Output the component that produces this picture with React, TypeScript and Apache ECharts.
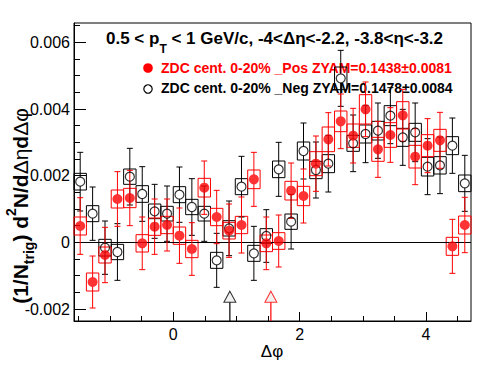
import React, { useEffect, useRef } from 'react';
import * as echarts from 'echarts';

const PI = Math.PI;
const NBINS = 32;
const BIN_W = PI / 16;
const X_MIN = -PI / 2;
const X_MAX = (3 * PI) / 2;
const Y_MIN = -0.00236;
const Y_MAX = 0.00658;

// _Neg (black open circles)
const NEG_Y = [0.00182, 0.00086, -0.00016, -0.00029, 0.00197, 0.00145, 0.00093, 0.00086, 0.00143, 0.00106, 0.00086, -0.00054, 0.00042, 0.00167, -0.00033, 0.00019, 0.00219, 0.00062, 0.00274, 0.00217, 0.00236, 0.00492, 0.00297, 0.00325, 0.00335, 0.0038, 0.00315, 0.0033, 0.00227, 0.00231, 0.0029, 0.00177];
const NEG_STAT = [0.00088, 0.0008, 0.0008, 0.00085, 0.00085, 0.00082, 0.00081, 0.00083, 0.00083, 0.00085, 0.00083, 0.00081, 0.00082, 0.00091, 0.00081, 0.00079, 0.00081, 0.00082, 0.00084, 0.00084, 0.00085, 0.00084, 0.00085, 0.00086, 0.00083, 0.00084, 0.00084, 0.00088, 0.00084, 0.00085, 0.00083, 0.00084];
const NEG_SYS = [0.00025, 0.00024, 0.00025, 0.00023, 0.00023, 0.00025, 0.00022, 0.00022, 0.00024, 0.00023, 0.00022, 0.00024, 0.00023, 0.00024, 0.00024, 0.00022, 0.00025, 0.00023, 0.00027, 0.00026, 0.00027, 0.00034, 0.00024, 0.00027, 0.00028, 0.0003, 0.00027, 0.00027, 0.00028, 0.00026, 0.00027, 0.00025];

// _Pos (red filled circles)
const POS_Y = [0.00049, -0.00119, -0.00038, 0.0013, 0.00133, -0.00003, 0.00047, 0.00052, 0.0002, -0.0002, 0.00164, 0.00076, 0.00035, 0.00052, 0.00189, -0.00003, 0.00004, 0.00155, 0.00139, 0.00236, 0.00309, 0.00363, 0.0032, 0.00399, 0.00279, 0.00322, 0.00381, 0.00257, 0.0029, 0.00306, -0.00012, 0.00052];
const POS_STAT = [0.00085, 0.00078, 0.00083, 0.00082, 0.00083, 0.00079, 0.00083, 0.00078, 0.00083, 0.00079, 0.0008, 0.0008, 0.0008, 0.00084, 0.00081, 0.00079, 0.00078, 0.00083, 0.00081, 0.00083, 0.0008, 0.00082, 0.00082, 0.00082, 0.00084, 0.00082, 0.00078, 0.00084, 0.00081, 0.00084, 0.00081, 0.00083];
const POS_SYS = [0.00027, 0.00027, 0.00024, 0.00027, 0.00029, 0.00026, 0.00026, 0.00026, 0.00026, 0.00026, 0.00028, 0.00026, 0.00025, 0.00026, 0.00028, 0.00025, 0.00025, 0.00028, 0.00029, 0.00036, 0.00037, 0.00031, 0.00035, 0.00044, 0.00036, 0.00037, 0.00041, 0.00034, 0.00033, 0.00033, 0.00027, 0.00027];

const X_MAJOR = [0, 2, 4];
const X_MINOR = [-1.5, -1, -0.5, 0.5, 1, 1.5, 2.5, 3, 3.5, 4.5];
const Y_MAJOR = [-0.002, 0, 0.002, 0.004, 0.006];
const Y_MINOR = [-0.0015, -0.001, -0.0005, 0.0005, 0.001, 0.0015, 0.0025, 0.003, 0.0035, 0.0045, 0.005, 0.0055, 0.0065];

const ZYAM_NEG_X = 0.896;
const ZYAM_POS_X = 1.545;
const ZYAM_MARK_Y = -0.00163;

const TITLE = '0.5 < p{sub|T} < 1 GeV/c, -4<Δη<-2.2, -3.8<η<-3.2';
const LEG_POS = 'ZDC cent. 0-20% _Pos ZYAM=0.1438±0.0081';
const LEG_NEG = 'ZDC cent. 0-20% _Neg ZYAM=0.1478±0.0084';
const Y_TITLE = '(1/N{sub|trig}) d{sup|2}N/d{g|Δη}d{g|Δφ}';
const X_TITLE = 'Δφ';

const FONT = '"Liberation Sans", Arial, Helvetica, sans-serif';
const RED = '#ff0000';
const BLACK = '#000000';

const centers = Array.from({ length: NBINS }, (_, i) => X_MIN + (i + 0.5) * BIN_W);

function boxRender(color: string) {
  return (params: any, api: any) => {
    const x = api.value(0);
    const y = api.value(1);
    const s = api.value(2);
    const p1 = api.coord([x - BIN_W / 2, y + s]);
    const p2 = api.coord([x + BIN_W / 2, y - s]);
    return {
      type: 'rect',
      shape: { x: p1[0], y: p1[1], width: p2[0] - p1[0], height: p2[1] - p1[1] },
      style: { fill: 'none', stroke: color, lineWidth: 1 },
    };
  };
}

function errRender(color: string, r: number) {
  return (params: any, api: any) => {
    const x = api.value(0);
    const y = api.value(1);
    const e = api.value(2);
    const c = api.coord([x, y]);
    const top = api.coord([x, y + e]);
    const bot = api.coord([x, y - e]);
    const cap = 3;
    const style = { stroke: color, lineWidth: 1 };
    return {
      type: 'group',
      children: [
        { type: 'line', shape: { x1: c[0], y1: top[1], x2: c[0], y2: c[1] - r }, style },
        { type: 'line', shape: { x1: c[0], y1: c[1] + r, x2: c[0], y2: bot[1] }, style },
        { type: 'line', shape: { x1: c[0] - cap, y1: top[1], x2: c[0] + cap, y2: top[1] }, style },
        { type: 'line', shape: { x1: c[0] - cap, y1: bot[1], x2: c[0] + cap, y2: bot[1] }, style },
      ],
    };
  };
}

function arrowRender(params: any, api: any) {
  const x = api.value(0);
  const y = api.value(1);
  const ci = api.value(2);
  const base = api.coord([x, y]);
  const bottom = api.coord([x, Y_MIN]);
  return {
    type: 'line',
    shape: { x1: base[0], y1: base[1] + 5.5, x2: base[0], y2: bottom[1] },
    style: { stroke: ci === 1 ? RED : BLACK, lineWidth: 1.2 },
  };
}

export default function App() {
  const ref = useRef<HTMLDivElement>(null);
  useEffect(() => {
    if (!ref.current) return;
    const chart = echarts.init(ref.current, null, { renderer: 'svg' });
    const negBox = centers.map((x, i) => [x, NEG_Y[i], NEG_SYS[i]]);
    const posBox = centers.map((x, i) => [x, POS_Y[i], POS_SYS[i]]);
    const negErr = centers.map((x, i) => [x, NEG_Y[i], NEG_STAT[i]]);
    const posErr = centers.map((x, i) => [x, POS_Y[i], POS_STAT[i]]);
    const negPts = centers.map((x, i) => [x, NEG_Y[i]]);
    const posPts = centers.map((x, i) => [x, POS_Y[i]]);

    const axisLabelStyle = { color: BLACK, fontSize: 16, fontFamily: FONT, fontWeight: 'normal' };

    const option: any = {
      animation: false,
      backgroundColor: '#ffffff',
      textStyle: { fontFamily: FONT },
      grid: {
        left: 74,
        top: 23,
        right: 25,
        bottom: 53,
        show: true,
        borderColor: BLACK,
        borderWidth: 1,
        backgroundColor: 'transparent',
        containLabel: false,
      },
      xAxis: [
        {
          type: 'value',
          min: X_MIN,
          max: X_MAX,
          position: 'bottom',
          axisLine: { show: true, onZero: false, lineStyle: { color: BLACK, width: 1 } },
          axisTick: { show: true, inside: true, length: 9, customValues: X_MAJOR, lineStyle: { color: BLACK } },
          axisLabel: { show: true, customValues: X_MAJOR, margin: 5, ...axisLabelStyle, formatter: (v: number) => String(v) },
          splitLine: { show: false },
        },
        {
          type: 'value',
          min: X_MIN,
          max: X_MAX,
          position: 'bottom',
          axisLine: { show: false, onZero: false },
          axisTick: { show: true, inside: true, length: 5, customValues: X_MINOR, lineStyle: { color: BLACK } },
          axisLabel: { show: false },
          splitLine: { show: false },
        },
      ],
      yAxis: [
        {
          type: 'value',
          min: Y_MIN,
          max: Y_MAX,
          position: 'left',
          axisLine: { show: true, onZero: false, lineStyle: { color: BLACK, width: 1 } },
          axisTick: { show: true, inside: true, length: 12, customValues: Y_MAJOR, lineStyle: { color: BLACK } },
          axisLabel: {
            show: true,
            customValues: Y_MAJOR,
            margin: 4,
            ...axisLabelStyle,
            formatter: (v: number) => (Math.abs(v) < 1e-12 ? '0' : v.toFixed(3)),
          },
          splitLine: { show: false },
        },
        {
          type: 'value',
          min: Y_MIN,
          max: Y_MAX,
          position: 'left',
          axisLine: { show: false, onZero: false },
          axisTick: { show: true, inside: true, length: 6, customValues: Y_MINOR, lineStyle: { color: BLACK } },
          axisLabel: { show: false },
          splitLine: { show: false },
        },
      ],
      series: [
        {
          type: 'custom',
          name: 'negBox',
          renderItem: boxRender(BLACK),
          data: negBox,
          encode: { x: 0, y: 1 },
          z: 2,
          silent: true,
        },
        {
          type: 'custom',
          name: 'posBox',
          renderItem: boxRender(RED),
          data: posBox,
          encode: { x: 0, y: 1 },
          z: 3,
          silent: true,
        },
        {
          type: 'custom',
          name: 'negErr',
          renderItem: errRender(BLACK, 4.5),
          data: negErr,
          encode: { x: 0, y: 1 },
          z: 4,
          silent: true,
        },
        {
          type: 'custom',
          name: 'posErr',
          renderItem: errRender(RED, 4.5),
          data: posErr,
          encode: { x: 0, y: 1 },
          z: 5,
          silent: true,
        },
        {
          type: 'scatter',
          name: 'Neg',
          data: negPts,
          symbol: 'circle',
          symbolSize: 9,
          itemStyle: { color: 'rgba(0,0,0,0)', borderColor: BLACK, borderWidth: 1.2 },
          z: 6,
          silent: true,
          markLine: {
            silent: true,
            symbol: 'none',
            label: { show: false },
            lineStyle: { color: BLACK, width: 1, type: 'solid' },
            data: [{ yAxis: 0 }],
          },
        },
        {
          type: 'scatter',
          name: 'Pos',
          data: posPts,
          symbol: 'circle',
          symbolSize: 10,
          itemStyle: { color: RED },
          z: 7,
          silent: true,
        },
        {
          type: 'custom',
          name: 'zyamLines',
          renderItem: arrowRender,
          data: [
            [ZYAM_NEG_X, ZYAM_MARK_Y, 0],
            [ZYAM_POS_X, ZYAM_MARK_Y, 1],
          ],
          encode: { x: 0, y: 1 },
          z: 6,
          silent: true,
        },
        {
          type: 'scatter',
          name: 'zyamNeg',
          data: [[ZYAM_NEG_X, ZYAM_MARK_Y]],
          symbol: 'triangle',
          symbolSize: [12, 11],
          itemStyle: { color: '#eeeeee', borderColor: BLACK, borderWidth: 1 },
          z: 7,
          silent: true,
        },
        {
          type: 'scatter',
          name: 'zyamPos',
          data: [[ZYAM_POS_X, ZYAM_MARK_Y]],
          symbol: 'triangle',
          symbolSize: [12, 11],
          itemStyle: { color: '#eeeeee', borderColor: RED, borderWidth: 1 },
          z: 7,
          silent: true,
        },
      ],
      graphic: [
        {
          type: 'text',
          x: 106,
          y: 38,
          z: 0,
          style: {
            text: TITLE,
            fill: BLACK,
            fontFamily: FONT,
            fontSize: 17,
            fontWeight: 'bold',
            lineHeight: 34,
            align: 'left',
            verticalAlign: 'middle',
            rich: {
              sub: { fontFamily: FONT, fontSize: 12, fontWeight: 'bold', lineHeight: 12, verticalAlign: 'bottom', fill: BLACK },
            },
          },
        },
        {
          type: 'circle',
          shape: { cx: 148, cy: 68, r: 4.8 },
          style: { fill: RED },
          z: 0,
        },
        {
          type: 'text',
          x: 161,
          y: 68,
          z: 0,
          style: { text: LEG_POS, fill: RED, fontFamily: FONT, fontSize: 14, fontWeight: 'bold', align: 'left', verticalAlign: 'middle' },
        },
        {
          type: 'circle',
          shape: { cx: 148, cy: 89, r: 4.2 },
          style: { fill: 'none', stroke: BLACK, lineWidth: 1.2 },
          z: 0,
        },
        {
          type: 'text',
          x: 161,
          y: 88,
          z: 0,
          style: { text: LEG_NEG, fill: BLACK, fontFamily: FONT, fontSize: 14, fontWeight: 'bold', align: 'left', verticalAlign: 'middle' },
        },
        {
          type: 'text',
          x: 20,
          y: 206,
          rotation: Math.PI / 2,
          z: 0,
          style: {
            text: Y_TITLE,
            fill: BLACK,
            fontFamily: FONT,
            fontSize: 21,
            fontWeight: 'bold',
            lineHeight: 32,
            align: 'center',
            verticalAlign: 'middle',
            rich: {
              sub: { fontFamily: FONT, fontSize: 14, fontWeight: 'bold', lineHeight: 14, verticalAlign: 'bottom', fill: BLACK },
              sup: { fontFamily: FONT, fontSize: 14, fontWeight: 'bold', lineHeight: 14, verticalAlign: 'top', fill: BLACK },
              g: { fontFamily: FONT, fontSize: 21, fontWeight: 'normal', lineHeight: 32, fill: BLACK },
            },
          },
        },
        {
          type: 'text',
          x: 272,
          y: 351,
          z: 0,
          style: { text: X_TITLE, fill: BLACK, fontFamily: FONT, fontSize: 17, fontWeight: 'normal', align: 'center', verticalAlign: 'middle' },
        },
      ],
    };
    chart.setOption(option);
    return () => {
      chart.dispose();
    };
  }, []);
  return (
    <div
      ref={ref}
      style={{ position: 'fixed', left: 0, top: 0, width: 496, height: 374, background: '#ffffff' }}
    />
  );
}
